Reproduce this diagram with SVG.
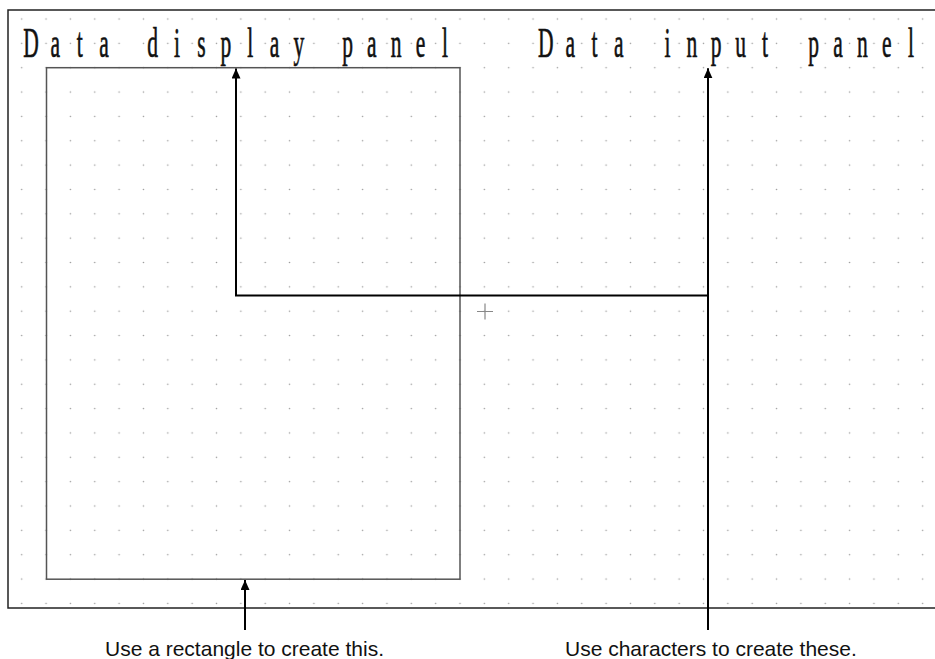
<svg xmlns="http://www.w3.org/2000/svg" width="935" height="659" viewBox="0 0 935 659">
  <style>
    .panel-title { font-family: "Liberation Serif", "Times New Roman", serif; font-size: 43px; fill: #111; stroke: #111; stroke-width: 0.7; text-anchor: middle; }
    .label { font-family: "Liberation Sans", Arial, sans-serif; font-size: 21px; fill: #111; }
    .conn { stroke: #000; stroke-width: 2; fill: none; }
  </style>
  <defs>
    <pattern id="grid" patternUnits="userSpaceOnUse" x="9.525" y="6.825" width="24.35" height="24.35">
      <circle cx="12.175" cy="12.175" r="0.8" fill="#9a9a9a"/>
    </pattern>
    <marker id="arrow" markerUnits="userSpaceOnUse" markerWidth="11" markerHeight="10" refX="10" refY="4.5" orient="auto">
      <path d="M0,0 L10,4.5 L0,9 z" fill="#000"/>
    </marker>
  </defs>
  <rect x="0" y="0" width="935" height="659" fill="#fff"/>
  <g id="frame">
    <rect x="8" y="10" width="940" height="598" fill="url(#grid)" stroke="#222" stroke-width="1.5"/>
  </g>
  <g id="display-panel">
    <rect x="46.5" y="67.7" width="413.5" height="511.5" fill="none" stroke="#555" stroke-width="1.5"/>
  </g>
  <g id="display-title">
    <text class="panel-title" transform="scale(0.5,1)" y="57" x="62 110.7 159.4 208.1 256.8 305.5 354.2 402.9 451.6 500.3 549 597.7 646.4 695.1 743.8 792.5 841.2 889.9">Data display panel</text>
  </g>
  <g id="input-title">
    <text class="panel-title" transform="scale(0.5,1)" y="57" x="1091.6 1140.3 1189 1237.7 1286.4 1335.1 1383.8 1432.5 1481.2 1529.9 1578.6 1627.3 1676 1724.7 1773.4 1822.1">Data input panel</text>
  </g>
  <g id="origin-mark">
    <path d="M477,311.5 H493 M485,303.5 V319.5" stroke="#888" stroke-width="1.2" fill="none"/>
  </g>
  <g id="label-rectangle">
    <text class="label" x="105" y="655.5">Use a rectangle to create this.</text>
  </g>
  <g id="label-characters">
    <text class="label" x="565" y="655.5">Use characters to create these.</text>
  </g>
  <g id="connectors">
    <path class="conn" d="M236,295.5 V68.5" marker-end="url(#arrow)"/>
    <path class="conn" d="M235,295.5 H708"/>
    <path class="conn" d="M708,630 V68.3" marker-end="url(#arrow)"/>
    <path class="conn" d="M245,630 V580" marker-end="url(#arrow)"/>
  </g>
</svg>
